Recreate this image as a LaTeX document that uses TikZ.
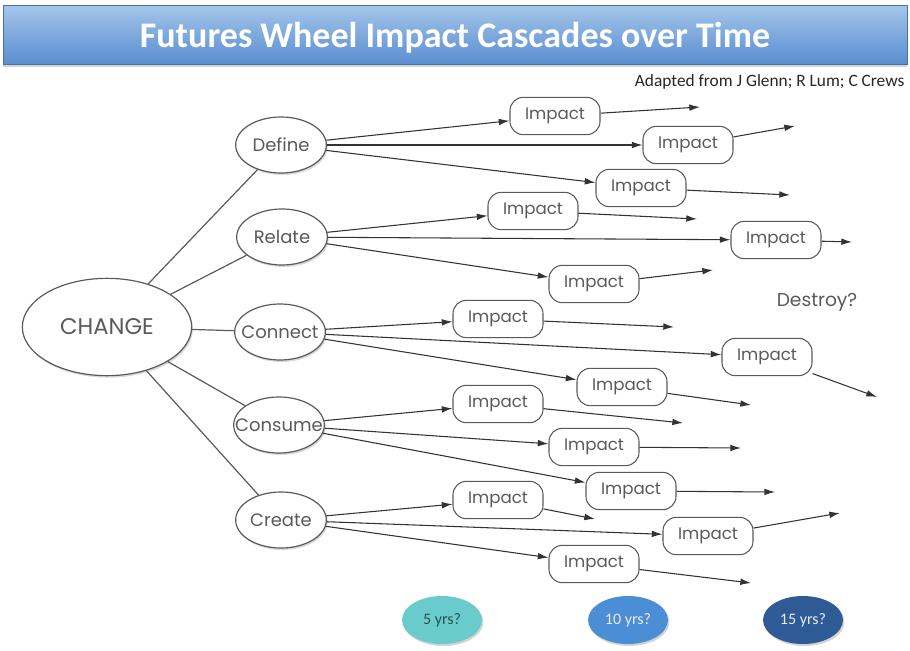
\documentclass[tikz,border=0pt]{standalone}
\usepackage{fontspec}
\setmainfont{Poppins}
\newfontfamily\titlefont{Carlito}
\usetikzlibrary{arrows.meta,shapes.geometric,shadows}

\definecolor{barTop}{HTML}{A3C5EA}
\definecolor{barBot}{HTML}{5A8DD0}
\definecolor{inkGray}{HTML}{5A5A5A}
\definecolor{fiveCol}{HTML}{6ACBCD}
\definecolor{tenCol}{HTML}{4C8ED5}
\definecolor{fifteenCol}{HTML}{2E5A96}

\tikzset{
  wheel/.style={ellipse,draw=inkGray,line width=0.9pt,fill=white,text=inkGray,inner sep=0pt,
    drop shadow={opacity=0.3,shadow xshift=1pt,shadow yshift=-1.5pt},
    execute at begin node={\hbox to 0pt\bgroup\hss},execute at end node={\hss\egroup}},
  spoke/.style={wheel,minimum width=68pt,minimum height=42pt,font=\fontsize{13.5}{15}\selectfont},
  impact/.style={rectangle,rounded corners=10pt,draw=inkGray,line width=0.8pt,fill=white,text=inkGray,
    minimum width=67.5pt,minimum height=28pt,inner sep=0pt,font=\fontsize{12.5}{14}\selectfont},
  link/.style={draw=inkGray,line width=0.9pt},
  cascade/.style={draw=black!80,line width=0.8pt,-{Latex[length=8pt,width=5pt]}},
  period/.style={ellipse,minimum width=60pt,minimum height=36pt,inner sep=0pt,
    font=\titlefont\fontsize{12}{14}\selectfont,
    drop shadow={opacity=0.35,shadow xshift=1pt,shadow yshift=-1.5pt}}
}

\begin{document}
\begin{tikzpicture}[x=0.75pt,y=-0.75pt]
  \useasboundingbox (0,0) rectangle (910,650);

  %title bar
  \node[rectangle,minimum width=678pt,minimum height=44pt,text depth=0pt,top color=barTop,bottom color=barBot,
    draw=barBot!80!black,line width=0.4pt,drop shadow={opacity=0.35,shadow xshift=0pt,shadow yshift=-2pt},
    text=white,font=\titlefont\bfseries\fontsize{27}{30}\selectfont] (title) at (455,35)
    {Futures Wheel Impact Cascades over Time};
  \node[anchor=east,text=black!85,font=\titlefont\fontsize{13}{15}\selectfont] (credit) at (909,82)
    {Adapted from J Glenn; R Lum; C Crews};

  %the change and its five spokes
  \node[wheel,minimum width=127pt,minimum height=73pt,font=\fontsize{17}{19}\selectfont] (change) at (107,327) {CHANGE};
  \node[spoke] (define) at (281,145) {Define};
  \node[spoke] (relate) at (282,237) {Relate};
  \node[spoke] (connect) at (280,332) {Connect};
  \node[spoke] (consume) at (279,425) {Consume};
  \node[spoke] (create) at (281,520) {Create};

  \draw[link] (change) -- (define);
  \draw[link] (change) -- (relate);
  \draw[link] (change) -- (connect);
  \draw[link] (change) -- (consume);
  \draw[link] (change) -- (create);

  %impacts
  \node[impact] (defA) at (555,116) {Impact};
  \node[impact] (defB) at (688,145) {Impact};
  \node[impact] (defC) at (641,188) {Impact};
  \node[impact] (relA) at (533,211) {Impact};
  \node[impact] (relB) at (776,240) {Impact};
  \node[impact] (relC) at (594,284) {Impact};
  \node[impact] (conA) at (498,319) {Impact};
  \node[impact] (conB) at (767,357) {Impact};
  \node[impact] (conC) at (622,387) {Impact};
  \node[impact] (cnsA) at (498,404) {Impact};
  \node[impact] (cnsB) at (594,447) {Impact};
  \node[impact] (cnsC) at (631,491) {Impact};
  \node[impact] (creA) at (498,500) {Impact};
  \node[impact] (creB) at (708,536) {Impact};
  \node[impact] (creC) at (594,564) {Impact};

  %free ends of the second wave
  \coordinate (defAend) at (700,107);
  \coordinate (defBend) at (795,126);
  \coordinate (defCend) at (790,195);
  \coordinate (relAend) at (697,219);
  \coordinate (relBend) at (852,242);
  \coordinate (relCend) at (713,270);
  \coordinate (conAend) at (674,327);
  \coordinate (conBend) at (877,397);
  \coordinate (conCend) at (751,405);
  \coordinate (cnsAend) at (683,423);
  \coordinate (cnsBend) at (741,448);
  \coordinate (cnsCend) at (775,492);
  \coordinate (creAend) at (595,519);
  \coordinate (creBend) at (840,513);
  \coordinate (creCend) at (751,583);

  %first wave
  \draw[cascade] (define) -- (defA);
  \draw[cascade] (define) -- (defB);
  \draw[cascade] (define) -- (defC);
  \draw[cascade] (relate) -- (relA);
  \draw[cascade] (relate) -- (relB);
  \draw[cascade] (relate) -- (relC);
  \draw[cascade] (connect) -- (conA);
  \draw[cascade] (connect) -- (conB);
  \draw[cascade] (connect) -- (conC);
  \draw[cascade] (consume) -- (cnsA);
  \draw[cascade] (consume) -- (cnsB);
  \draw[cascade] (consume) -- (cnsC);
  \draw[cascade] (create) -- (creA);
  \draw[cascade] (create) -- (creB);
  \draw[cascade] (create) -- (creC);

  %second wave
  \draw[cascade] (defA) -- (defAend);
  \draw[cascade] (defB) -- (defBend);
  \draw[cascade] (defC) -- (defCend);
  \draw[cascade] (relA) -- (relAend);
  \draw[cascade] (relB) -- (relBend);
  \draw[cascade] (relC) -- (relCend);
  \draw[cascade] (conA) -- (conAend);
  \draw[cascade] (conB) -- (conBend);
  \draw[cascade] (conC) -- (conCend);
  \draw[cascade] (cnsA) -- (cnsAend);
  \draw[cascade] (cnsB) -- (cnsBend);
  \draw[cascade] (cnsC) -- (cnsCend);
  \draw[cascade] (creA) -- (creAend);
  \draw[cascade] (creB) -- (creBend);
  \draw[cascade] (creC) -- (creCend);

  \node[text=inkGray,font=\fontsize{14}{16}\selectfont] (destroy) at (817,302) {Destroy?};

  %time horizon
  \node[period,fill=fiveCol,text=fiveCol!40!black] (five) at (442,620) {5 yrs?};
  \node[period,fill=tenCol,text=white!92!blue] (ten) at (628,620) {10 yrs?};
  \node[period,fill=fifteenCol,text=white!92!blue] (fifteen) at (803,620) {15 yrs?};
\end{tikzpicture}
\end{document}
